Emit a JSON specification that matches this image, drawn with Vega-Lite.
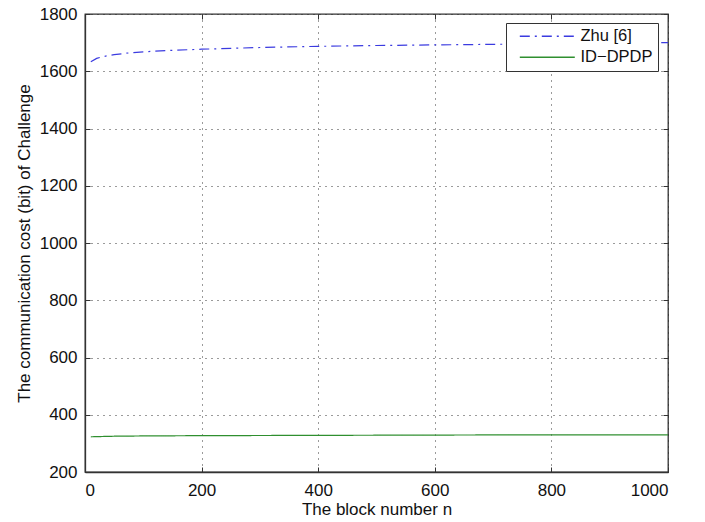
{
  "$schema": "https://vega.github.io/schema/vega-lite/v6.json",
  "width": 583,
  "height": 458,
  "autosize": {"type": "none"},
  "padding": {"left": 85, "top": 14, "right": 37, "bottom": 50},
  "background": "white",
  "config": {
    "font": "Liberation Sans",
    "view": {"stroke": "#333", "strokeWidth": 1.3},
    "axis": {
      "labelFont": "Liberation Sans",
      "titleFont": "Liberation Sans",
      "labelFontSize": 17,
      "titleFontSize": 17,
      "titleFontWeight": "normal",
      "labelColor": "#111",
      "titleColor": "#111",
      "domainColor": "#333",
      "domainWidth": 1.3,
      "tickColor": "#333",
      "tickSize": -5,
      "gridColor": "#222",
      "gridDash": [1, 5],
      "gridOpacity": 0.9,
      "gridWidth": 1,
      "format": "d"
    }
  },
  "data": {
    "values": [
      {"n": 10, "cost": 1633, "series": "Zhu [6]"},
      {"n": 20, "cost": 1645, "series": "Zhu [6]"},
      {"n": 30, "cost": 1651, "series": "Zhu [6]"},
      {"n": 50, "cost": 1658, "series": "Zhu [6]"},
      {"n": 75, "cost": 1664, "series": "Zhu [6]"},
      {"n": 100, "cost": 1668, "series": "Zhu [6]"},
      {"n": 150, "cost": 1673, "series": "Zhu [6]"},
      {"n": 200, "cost": 1677, "series": "Zhu [6]"},
      {"n": 250, "cost": 1680, "series": "Zhu [6]"},
      {"n": 300, "cost": 1683, "series": "Zhu [6]"},
      {"n": 400, "cost": 1687, "series": "Zhu [6]"},
      {"n": 500, "cost": 1690, "series": "Zhu [6]"},
      {"n": 600, "cost": 1692, "series": "Zhu [6]"},
      {"n": 700, "cost": 1694, "series": "Zhu [6]"},
      {"n": 800, "cost": 1696, "series": "Zhu [6]"},
      {"n": 900, "cost": 1698, "series": "Zhu [6]"},
      {"n": 1000, "cost": 1700, "series": "Zhu [6]"},
      {"n": 10, "cost": 323, "series": "ID−DPDP"},
      {"n": 50, "cost": 325, "series": "ID−DPDP"},
      {"n": 100, "cost": 326, "series": "ID−DPDP"},
      {"n": 200, "cost": 327, "series": "ID−DPDP"},
      {"n": 400, "cost": 328, "series": "ID−DPDP"},
      {"n": 600, "cost": 329, "series": "ID−DPDP"},
      {"n": 800, "cost": 330, "series": "ID−DPDP"},
      {"n": 1000, "cost": 330, "series": "ID−DPDP"}
    ]
  },
  "layer": [
    {
      "mark": {"type": "line", "strokeWidth": 1.2, "clip": true},
      "encoding": {
        "x": {
          "field": "n", "type": "quantitative",
          "scale": {"domain": [0, 1000], "nice": false, "zero": false},
          "axis": {"values": [0, 200, 400, 600, 800, 1000], "title": "The block number n", "labelPadding": 15, "titlePadding": 3, "grid": true}
        },
        "y": {
          "field": "cost", "type": "quantitative",
          "scale": {"domain": [200, 1800], "nice": false, "zero": false},
          "axis": {"values": [200, 400, 600, 800, 1000, 1200, 1400, 1600, 1800], "title": "The communication cost (bit) of Challenge", "labelPadding": 13, "titlePadding": 6, "grid": true}
        },
        "color": {
          "field": "series", "type": "nominal",
          "scale": {"domain": ["Zhu [6]", "ID−DPDP"], "range": ["#3b3be0", "#2f8f2f"]},
          "legend": {
            "title": null,
            "orient": "none",
            "legendX": 421,
            "legendY": 9,
            "symbolType": "M0.1,0H10.1",
            "symbolSize": 121,
            "symbolStrokeWidth": 1.5,
            "labelFontSize": 16.5,
            "labelFont": "Liberation Sans",
            "labelColor": "#111",
            "labelOffset": 53,
            "rowPadding": 4,
            "fillColor": "white",
            "strokeColor": "#333",
            "padding": 5,
            "cornerRadius": 0
          }
        },
        "strokeDash": {
          "field": "series", "type": "nominal",
          "scale": {"domain": ["Zhu [6]", "ID−DPDP"], "range": [[10, 5, 2, 5], [1, 0]]},
          "legend": {
            "title": null,
            "orient": "none",
            "legendX": 421,
            "legendY": 9,
            "symbolType": "M0.1,0H10.1",
            "symbolSize": 121,
            "symbolStrokeWidth": 1.5,
            "labelFontSize": 16.5,
            "labelFont": "Liberation Sans",
            "labelColor": "#111",
            "labelOffset": 53,
            "rowPadding": 4,
            "fillColor": "white",
            "strokeColor": "#333",
            "padding": 5,
            "cornerRadius": 0
          }
        }
      }
    },
    {
      "mark": {"type": "point", "opacity": 0},
      "encoding": {
        "x": {
          "field": "n", "type": "quantitative",
          "scale": {"domain": [0, 1000], "nice": false, "zero": false},
          "axis": {"orient": "top", "values": [0, 200, 400, 600, 800, 1000], "labels": false, "title": null, "grid": false, "domain": false}
        },
        "y": {
          "field": "cost", "type": "quantitative",
          "scale": {"domain": [200, 1800], "nice": false, "zero": false},
          "axis": {"orient": "right", "values": [200, 400, 600, 800, 1000, 1200, 1400, 1600, 1800], "labels": false, "title": null, "grid": false, "domain": false}
        }
      }
    }
  ],
  "resolve": {"axis": {"x": "independent", "y": "independent"}}
}
